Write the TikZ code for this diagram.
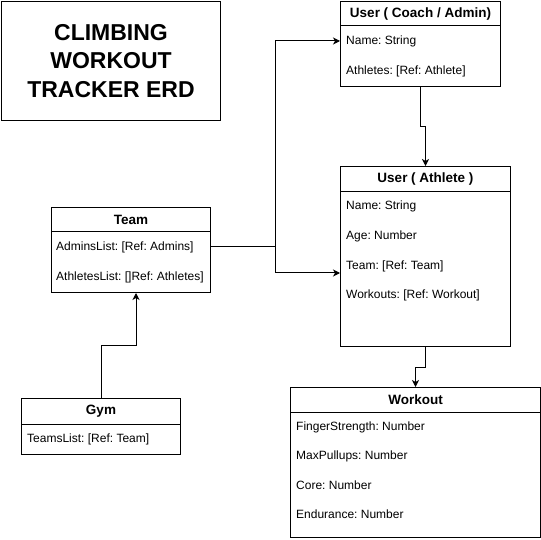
\documentclass[tikz,border=0pt]{standalone}
\usepackage{fontspec}
\setmainfont{Liberation Sans}
\usepackage{tikz}
\usetikzlibrary{arrows.meta,positioning}
\frenchspacing

\begin{document}
\begin{tikzpicture}[x=1pt,y=-1pt,
	box/.style={draw=black, line width=1pt, anchor=north west, inner sep=0pt},
	sep/.style={draw=black, line width=1pt},
	head/.style={font=\bfseries\fontsize{13.5}{16}\selectfont},
	attr/.style={anchor=west, inner sep=0pt, font=\fontsize{12}{14}\selectfont},
	link/.style={draw=black, line width=1pt, -{Stealth[length=7pt,width=7pt,inset=2pt]}}]
	\useasboundingbox (0,0) rectangle (541,540);

	% title
	\node[box, minimum width=219pt, minimum height=119pt, align=center,
		font=\bfseries\fontsize{23}{28.3}\selectfont] (title) at (1,1) {CLIMBING\\WORKOUT\\TRACKER ERD};

	% coach / admin
	\node[box, minimum width=160pt, minimum height=85pt] (coach) at (340,1) {};
	\draw[sep] ([yshift=-25pt]coach.north west) -- ([yshift=-25pt]coach.north east);
	\node[head] (coachhead) at ([yshift=-13pt]coach.north) {User ( Coach / Admin)};
	\node[attr] (coachname) at ([xshift=6pt,yshift=-40pt]coach.north west) {Name: String};
	\node[attr] (coachathl) at ([xshift=6pt,yshift=-70pt]coach.north west) {Athletes: [Ref: Athlete]};

	% athlete
	\node[box, minimum width=170pt, minimum height=180pt] (athlete) at (340,166) {};
	\draw[sep] ([yshift=-26pt]athlete.north west) -- ([yshift=-26pt]athlete.north east);
	\node[head] (athlhead) at ([yshift=-13pt]athlete.north) {User ( Athlete )};
	\node[attr] (athlname) at ([xshift=6pt,yshift=-40pt]athlete.north west) {Name: String};
	\node[attr] (athlage) at ([xshift=6pt,yshift=-70pt]athlete.north west) {Age: Number};
	\node[attr] (athlteam) at ([xshift=6pt,yshift=-100pt]athlete.north west) {Team: [Ref: Team]};
	\node[attr] (athlwork) at ([xshift=6pt,yshift=-129pt]athlete.north west) {Workouts: [Ref: Workout]};

	% team
	\node[box, minimum width=159pt, minimum height=85pt] (team) at (51,207) {};
	\draw[sep] ([yshift=-25pt]team.north west) -- ([yshift=-25pt]team.north east);
	\node[head] (teamhead) at ([yshift=-13pt]team.north) {Team};
	\node[attr] (teamadm) at ([xshift=5pt,yshift=-40pt]team.north west) {AdminsList: [Ref: Admins]};
	\node[attr] (teamathl) at ([xshift=5pt,yshift=-70pt]team.north west) {AthletesList: []Ref: Athletes]};

	% gym
	\node[box, minimum width=159pt, minimum height=56pt] (gym) at (21,398) {};
	\draw[sep] ([yshift=-26pt]gym.north west) -- ([yshift=-26pt]gym.north east);
	\node[head] (gymhead) at ([yshift=-13pt]gym.north) {Gym};
	\node[attr] (gymteams) at ([xshift=6pt,yshift=-41pt]gym.north west) {TeamsList: [Ref: Team]};

	% workout
	\node[box, minimum width=250pt, minimum height=150pt] (workout) at (290,387) {};
	\draw[sep] ([yshift=-25pt]workout.north west) -- ([yshift=-25pt]workout.north east);
	\node[head] (workhead) at ([yshift=-13pt]workout.north) {Workout};
	\node[attr] (workfing) at ([xshift=6pt,yshift=-40pt]workout.north west) {FingerStrength: Number};
	\node[attr] (workpull) at ([xshift=6pt,yshift=-69pt]workout.north west) {MaxPullups: Number};
	\node[attr] (workcore) at ([xshift=6pt,yshift=-98pt]workout.north west) {Core: Number};
	\node[attr] (workendu) at ([xshift=6pt,yshift=-127pt]workout.north west) {Endurance: Number};

	% links
	\coordinate (split) at (275,247);
	\draw[sep] ([yshift=-40pt]team.north east) -- (split);
	\draw[link] (split) |- ([yshift=-40pt]coach.north west);
	\draw[link] (split) |- ([yshift=-107pt]athlete.north west);
	\draw[link] (coach.south) -- ++(0,40) -| (athlete.north);
	\draw[link] (athlete.south) -- ++(0,20) -| (workout.north);
	\draw[link] (gym.north) -- ++(0,-53) -| ([xshift=5pt]team.south);

\end{tikzpicture}
\end{document}
